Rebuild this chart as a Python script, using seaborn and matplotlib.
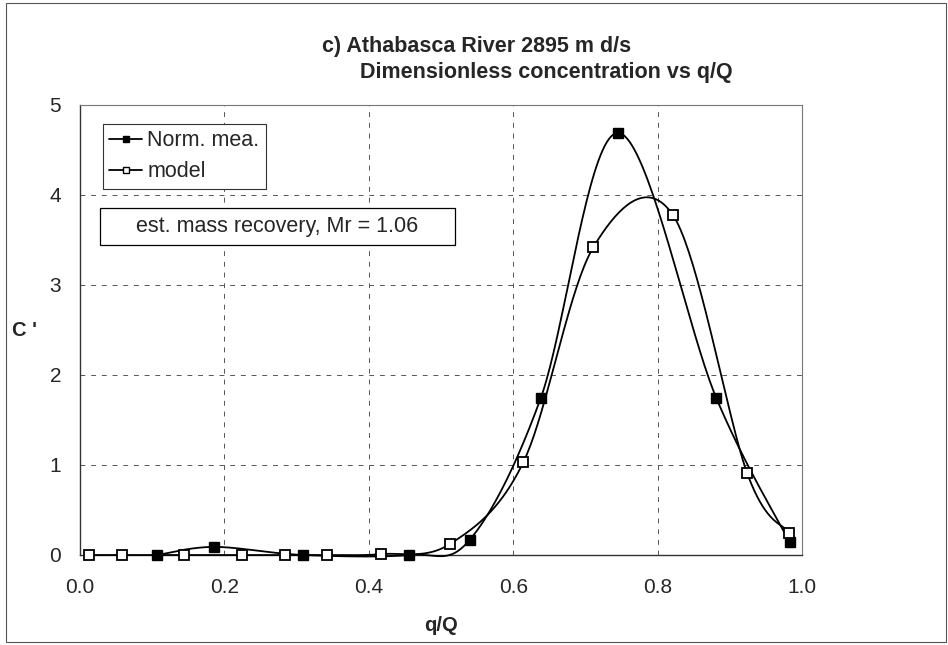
import numpy as np
import pandas as pd
import matplotlib
matplotlib.use("Agg")
import matplotlib.pyplot as plt
import seaborn as sns
from matplotlib.lines import Line2D
from matplotlib.patches import Rectangle

sns.set_theme(style="white")
plt.rcParams['font.family'] = ['Liberation Sans', 'DejaVu Sans']

# Data
meas_x = [0.107, 0.186, 0.309, 0.456, 0.540, 0.638, 0.745, 0.881, 0.983]
meas_y = [0.00, 0.09, 0.00, 0.00, 0.17, 1.74, 4.69, 1.75, 0.14]
model_x = [0.012, 0.058, 0.144, 0.224, 0.284, 0.342, 0.417, 0.512, 0.614, 0.711, 0.821, 0.924, 0.982]
model_y = [0.00, 0.00, 0.00, 0.00, 0.00, 0.00, 0.01, 0.12, 1.03, 3.42, 3.78, 0.91, 0.25]
x_ticks = [0.0, 0.2, 0.4, 0.6, 0.8, 1.0]
y_ticks = [0, 1, 2, 3, 4, 5]


def smooth(xs, ys, n=40):
    """Excel-style smoothed line (Catmull-Rom Bezier) through the points."""
    P = np.column_stack([xs, ys]).astype(float)
    P = np.vstack([P[0], P, P[-1]])
    out = []
    t = np.linspace(0, 1, n)[:, None]
    for i in range(1, len(P) - 2):
        p0, p1, p2, p3 = P[i - 1], P[i], P[i + 1], P[i + 2]
        c1 = p1 + (p2 - p0) / 6.0
        c2 = p2 - (p3 - p1) / 6.0
        seg = ((1 - t) ** 3) * p1 + 3 * ((1 - t) ** 2) * t * c1 + 3 * (1 - t) * t ** 2 * c2 + t ** 3 * p2
        out.append(seg if i == 1 else seg[1:])
    seg = np.vstack(out)
    return seg[:, 0], seg[:, 1]


W, H = 948, 645
AX_L, AX_R, AX_T, AX_B = 80, 802, 105, 555
AXW, AXH = AX_R - AX_L, AX_B - AX_T

fig = plt.figure(figsize=(W / 100, H / 100), dpi=100)
ax = fig.add_axes([AX_L / W, (H - AX_B) / H, AXW / W, AXH / H])

mx, my = smooth(meas_x, meas_y)
ox, oy = smooth(model_x, model_y)
sns.lineplot(x=mx, y=my, ax=ax, color='black', lw=1.3, sort=False, estimator=None, zorder=3)
sns.lineplot(x=ox, y=oy, ax=ax, color='black', lw=1.3, sort=False, estimator=None, zorder=3)
for ln in ax.lines:
    ln.set_clip_on(False)
ax.plot(meas_x, meas_y, ls='none', marker='s', ms=6.5, mfc='black', mec='black', zorder=5, clip_on=False)
ax.plot(model_x, model_y, ls='none', marker='s', ms=6.5, mfc='white', mec='black', mew=1.3, zorder=5,
        clip_on=False)

ax.set_xlim(0, 1.0)
ax.set_ylim(0, 5)
ax.set_xticks(x_ticks)
ax.set_yticks(y_ticks)
ax.set_xticklabels([f"{v:.1f}" for v in x_ticks], fontsize=15)
ax.set_yticklabels([str(v) for v in y_ticks], fontsize=15)
ax.tick_params(axis='x', direction='inout', length=9, width=0.8, color='#444444', pad=12)
ax.tick_params(axis='y', direction='inout', length=12, width=0.8, color='#444444', pad=7.5)

ax.grid(True, ls=(0, (5, 6)), color='#555555', lw=0.7)
for s in ['top', 'right']:
    ax.spines[s].set_color('#777777')
    ax.spines[s].set_linewidth(0.8)
for s in ['left', 'bottom']:
    ax.spines[s].set_color('#333333')
    ax.spines[s].set_linewidth(1.0)

ax.set_xlabel('q/Q', fontsize=14.5, fontweight='bold', labelpad=14)
ax.set_ylabel("C '", fontsize=14.5, fontweight='bold', rotation=0, labelpad=18, va='center')

handles = [
    Line2D([0], [0], color='black', lw=1.3, marker='s', ms=5, mfc='black', mec='black'),
    Line2D([0], [0], color='black', lw=1.3, marker='s', ms=5, mfc='white', mec='black'),
]
leg = ax.legend(handles, ['Norm. mea.', 'model'], loc='upper left',
                bbox_to_anchor=(23 / AXW, (AX_B - 124) / AXH),
                fontsize=15.5, frameon=True, fancybox=False, edgecolor='#333333', framealpha=1,
                handlelength=1.5, handletextpad=0.25, borderpad=0.3, labelspacing=0.45,
                borderaxespad=0)
leg.get_frame().set_linewidth(0.8)

# Mass-recovery annotation box
bx0, bx1, by0, by1 = 100, 455, 208, 245
ax.add_patch(Rectangle(((bx0 - AX_L) / AXW, (AX_B - by1) / AXH), (bx1 - bx0) / AXW, (by1 - by0) / AXH,
                       transform=ax.transAxes, fc='white', ec='black', lw=0.9, zorder=6))
ax.text((136 - AX_L) / AXW, (AX_B - (by0 + by1) / 2) / AXH, 'est. mass recovery, Mr = 1.06',
        transform=ax.transAxes, fontsize=15.5, ha='left', va='center', zorder=7)

fig.text(477 / W, 1 - 52 / H, 'c) Athabasca River 2895 m d/s', fontsize=15.5,
         fontweight='bold', ha='center', va='baseline')
fig.text(360 / W, 1 - 78 / H, 'Dimensionless concentration vs q/Q', fontsize=15.5,
         fontweight='bold', ha='left', va='baseline')

fig.patches.append(Rectangle((6 / W, 3 / H), 940 / W, 639 / H, transform=fig.transFigure,
                             fill=False, ec='#555555', lw=0.8))

fig.savefig('out.png', dpi=100)
